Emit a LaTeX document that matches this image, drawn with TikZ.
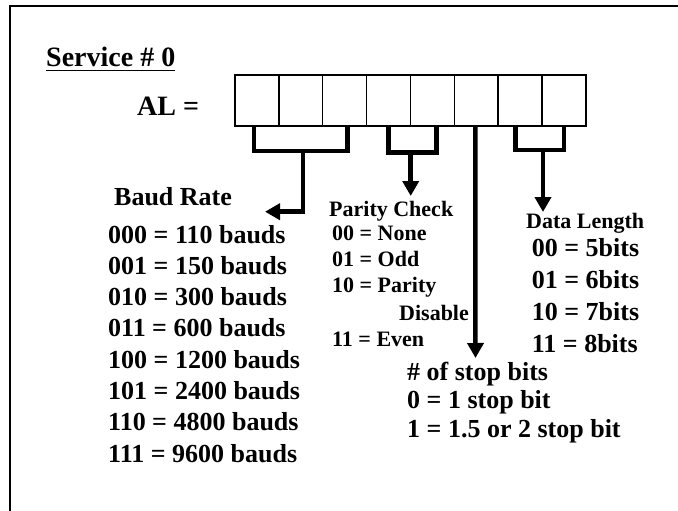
\documentclass[tikz,border=0pt]{standalone}
\usepackage{fontspec}
\setmainfont{Liberation Serif}
\usepackage{tikz}
\usetikzlibrary{arrows.meta}

\begin{document}
\begin{tikzpicture}[x=1pt, y=-1pt, font=\bfseries,
  bigtext/.style={anchor=base west, inner sep=0pt, font=\fontsize{28}{32}\selectfont\bfseries},
  listtext/.style={anchor=base west, inner sep=0pt, font=\fontsize{26}{30}\selectfont\bfseries},
  smalltext/.style={anchor=base west, inner sep=0pt, font=\fontsize{22}{26}\selectfont\bfseries},
  cell/.style={draw, line width=1.5pt, minimum width=43.875pt, minimum height=51pt, inner sep=0pt},
  bracket/.style={line width=4.5pt},
  pointer/.style={line width=4.5pt, -{Triangle[length=15pt, width=16pt]}}]
  \useasboundingbox (0,0) rectangle (678,511);
  \draw[line width=2.5pt] (10,511) -- (10,6) -- (678,6);

  \node[bigtext] (service) at (46,66.7) {Service \# 0};
  \draw[line width=1.5pt] ([yshift=-4pt]service.base west) -- ([yshift=-4pt]service.base east);
  \node[bigtext] (al) at (137,115) {AL =};
  \foreach \i in {0,...,7}
    \node[cell] (c\i) at (256.9+\i*43.875,100.5) {};

  \coordinate (baudjoin) at (303,151);
  \coordinate (baudtip) at (265,211.7);
  \draw[bracket] ([xshift=-3pt]c0.south) |- (baudjoin) -| ([xshift=3pt]c2.south);
  \draw[pointer] (baudjoin) |- (baudtip);

  \coordinate (parjoin) at (410.7,152.5);
  \coordinate (partip) at (410.7,196);
  \draw[bracket] (c3.south) |- (parjoin) -| ([xshift=4pt]c4.south);
  \draw[pointer] (parjoin) -- (partip);

  \coordinate (stoptip) at (475.5,358);
  \draw[pointer] ([xshift=-1pt]c5.south) -- (stoptip);

  \coordinate (datajoin) at (543,150);
  \coordinate (datatip) at (543,212);
  \draw[bracket] ([xshift=-4.5pt]c6.south) |- (datajoin) -| (c7.south);
  \draw[pointer] (datajoin) -- (datatip);

  \node[listtext] (baudrate) at (114,205) {Baud Rate};
  \foreach \txt [count=\k] in {000 = 110 bauds, 001 = 150 bauds, 010 = 300 bauds,
      011 = 600 bauds, 100 = 1200 bauds, 101 = 2400 bauds, 110 = 4800 bauds, 111 = 9600 bauds}
    \node[listtext] (baud\k) at (108,211.7+31.3*\k) {\txt};

  \node[smalltext] (parity) at (329,216.7) {Parity Check};
  \node[smalltext] (par00) at (332,240) {00 = None};
  \node[smalltext] (par01) at (332,266.7) {01 = Odd};
  \node[smalltext] (par10) at (332,292) {10 = Parity};
  \node[smalltext] (disable) at (399,320) {Disable};
  \node[smalltext] (par11) at (332,346.7) {11 = Even};

  \node[smalltext] (datalen) at (526,228.3) {Data Length};
  \node[listtext] (data00) at (531.7,256.7) {00 = 5bits};
  \node[listtext] (data01) at (531.7,288.3) {01 = 6bits};
  \node[listtext] (data10) at (531.7,320) {10 = 7bits};
  \node[listtext] (data11) at (531.7,352) {11 = 8bits};

  \node[listtext] (stopbits) at (407,380) {\# of stop bits};
  \node[listtext] (stop0) at (407,408) {0 = 1 stop bit};
  \node[listtext] (stop1) at (407,437) {1 = 1.5 or 2 stop bit};
\end{tikzpicture}
\end{document}
